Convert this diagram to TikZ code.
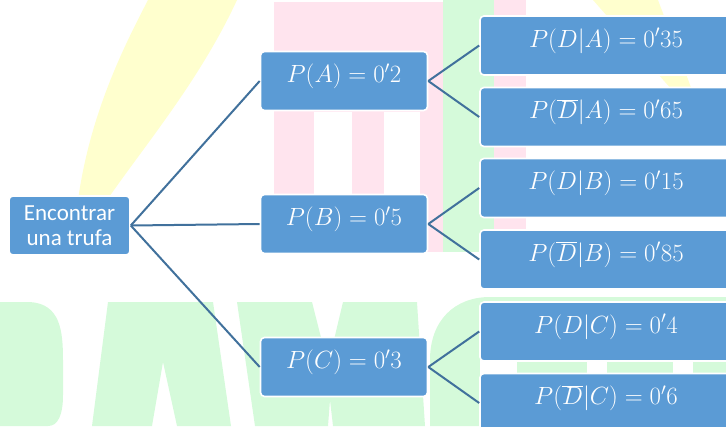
\documentclass[tikz,border=0pt]{standalone}
\usepackage{fontspec}
\setsansfont{Carlito}
\definecolor{boxblue}{RGB}{91,155,213}
\definecolor{linkblue}{RGB}{65,113,156}
\definecolor{wmyellow}{RGB}{255,255,206}
\definecolor{wmpink}{RGB}{255,228,238}
\definecolor{wmgreen}{RGB}{213,250,218}
\begin{document}
\begin{tikzpicture}[x=1pt,y=-1pt,
  box/.style={draw=white, line width=1.6pt, fill=boxblue, rounded corners=4pt,
    text=white, inner xsep=0pt, inner ysep=5pt},
  mathtxt/.style={font=\fontsize{23}{27}\selectfont, text height=26pt, text depth=23pt},
  lone/.style={box, mathtxt, minimum width=167pt},
  ltwo/.style={box, mathtxt, minimum width=252pt},
  rootbox/.style={box, minimum width=121pt, minimum height=59pt, align=center,
    font=\sffamily\fontsize{23}{25}\selectfont},
  link/.style={draw=linkblue, line width=2pt}]
\useasboundingbox (0,0) rectangle (726,426);
% watermark
\fill[wmyellow] (148,0) -- (237,0) .. controls (200,80) and (145,145) .. (107,200)
  -- (78,200) .. controls (90,115) and (122,50) .. cycle;
\fill[wmyellow] (593,0) -- (658,0) -- (692,90) -- (672,90) -- cycle;
\fill[wmpink] (274,2) rectangle (443,252);
\fill[wmpink] (494,0) rectangle (526,252);
\fill[white] (314,112) rectangle (352,253);
\fill[white] (384,112) rectangle (420,253);
\fill[wmgreen] (443,0) rectangle (494,252);
\fill[wmgreen] (0,302) -- (30,302) .. controls (60,304) and (63,330) .. (63,360)
  -- (63,395) .. controls (63,415) and (58,426) .. (48,426) -- (0,426) -- cycle;
\fill[wmgreen] (108,302) -- (213,302) -- (231,426) -- (177,426) -- (163,362)
  -- (152,426) -- (92,426) -- cycle;
\fill[wmgreen] (237,302) -- (312,302) -- (328,365) -- (343,302) -- (417,302)
  -- (425,426) -- (333,426) -- (330,400) -- (328,426) -- (255,426) -- cycle;
\fill[wmgreen] (430,426) -- (430,360) .. controls (430,320) and (455,297) .. (490,297)
  -- (726,297) -- (726,426) -- cycle;
\fill[white] (480,360) rectangle (517,375);
\fill[white] (587,360) rectangle (607,375);
\fill[white] (673,360) rectangle (693,375);
% nodes
\node[rootbox] (root) at (69.5,225.5) {Encontrar\\una trufa};
\node[lone] (pa) at (344,81) {$P(A)=0'2$};
\node[lone] (pb) at (344,224) {$P(B)=0'5$};
\node[lone] (pc) at (344,367) {$P(C)=0'3$};
\node[ltwo] (da) at (606,45.5) {$P(D|A)=0'35$};
\node[ltwo] (nda) at (606,117) {$P(\overline{D}|A)=0'65$};
\node[ltwo] (db) at (606,188) {$P(D|B)=0'15$};
\node[ltwo] (ndb) at (606,259.5) {$P(\overline{D}|B)=0'85$};
\node[ltwo] (dc) at (606,331.5) {$P(D|C)=0'4$};
\node[ltwo] (ndc) at (606,403) {$P(\overline{D}|C)=0'6$};
% connectors
\draw[link] (root.east) -- (pa.west);
\draw[link] (root.east) -- (pb.west);
\draw[link] (root.east) -- (pc.west);
\draw[link] (pa.east) -- (da.west);
\draw[link] (pa.east) -- (nda.west);
\draw[link] (pb.east) -- (db.west);
\draw[link] (pb.east) -- (ndb.west);
\draw[link] (pc.east) -- (dc.west);
\draw[link] (pc.east) -- (ndc.west);
\end{tikzpicture}
\end{document}
